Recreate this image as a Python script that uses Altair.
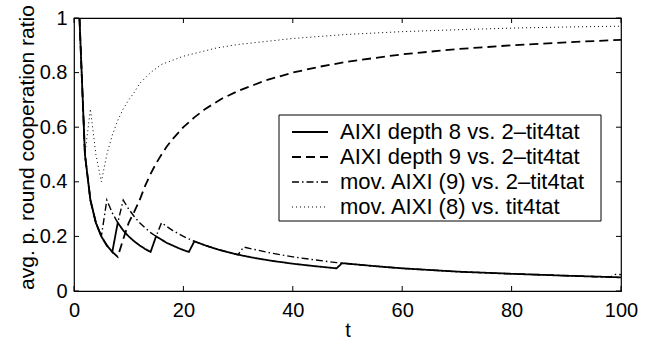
import altair as alt
import pandas as pd

# ---------------- data ----------------
names = [
    "AIXI depth 8 vs. 2\u2013tit4tat",
    "AIXI depth 9 vs. 2\u2013tit4tat",
    "mov. AIXI (9) vs. 2\u2013tit4tat",
    "mov. AIXI (8) vs. tit4tat",
]

t_s1 = [1, 2, 3, 4, 5, 6, 7, 8, 9, 10, 11, 12, 13, 14, 15, 16, 17, 18, 19, 20, 21, 22,
        24, 26, 28, 30, 33, 36, 40, 44, 48, 49, 55, 60, 65, 70, 80, 90, 100]
v_s1 = [1.0, 0.5, 0.333, 0.25, 0.2, 0.167, 0.143, 0.25, 0.222, 0.2, 0.182, 0.167, 0.154,
        0.143, 0.2, 0.188, 0.176, 0.167, 0.158, 0.15, 0.143, 0.182, 0.167, 0.154, 0.143,
        0.133, 0.121, 0.111, 0.1, 0.091, 0.083, 0.102, 0.091, 0.083, 0.077, 0.071, 0.063,
        0.056, 0.05]

t_s2 = [1, 2, 3, 4, 5, 6, 7, 8, 9, 10, 11, 12, 13, 14, 15, 16, 17, 18, 20, 22, 24, 27,
        30, 35, 40, 45, 50, 60, 70, 80, 90, 100]
v_s2 = [1.0, 0.5, 0.333, 0.25, 0.2, 0.167, 0.143, 0.125, 0.19, 0.25, 0.29, 0.333, 0.385,
        0.429, 0.467, 0.5, 0.53, 0.556, 0.6, 0.636, 0.667, 0.704, 0.733, 0.771, 0.8,
        0.822, 0.84, 0.867, 0.886, 0.9, 0.911, 0.92]

t_s3 = [1, 2, 3, 4, 5, 6, 7, 8, 9, 10, 11, 12, 13, 14, 15, 16, 18, 20, 22, 24, 26, 28,
        30, 31, 33, 36, 40, 44, 48, 55, 60, 70, 80, 90, 98, 99, 100]
v_s3 = [1.0, 0.5, 0.333, 0.25, 0.2, 0.333, 0.286, 0.25, 0.333, 0.3, 0.273, 0.25, 0.231,
        0.214, 0.2, 0.25, 0.222, 0.2, 0.182, 0.167, 0.154, 0.143, 0.133, 0.161, 0.152,
        0.139, 0.125, 0.114, 0.104, 0.091, 0.083, 0.071, 0.063, 0.056, 0.051, 0.061, 0.06]

t_s4 = [1, 2, 3, 4, 5, 6, 7, 8, 9, 10, 11, 12, 14, 16, 18, 20, 23, 26, 30, 35, 40, 50,
        60, 70, 80, 90, 100]
v_s4 = [1.0, 0.5, 0.667, 0.5, 0.4, 0.5, 0.571, 0.625, 0.667, 0.7, 0.727, 0.76, 0.8,
        0.83, 0.845, 0.86, 0.875, 0.89, 0.903, 0.914, 0.925, 0.94, 0.95, 0.957, 0.963,
        0.967, 0.97]

x_ticks = [0, 20, 40, 60, 80, 100]
y_ticks = [0, 0.2, 0.4, 0.6, 0.8, 1]

# ---------------- styling ----------------
W, H = 547, 273
FONT = "Liberation Sans"
dashes = [[1, 0], [9, 5], [7, 3, 1.5, 3], [1, 3]]
widths = [1.8, 1.8, 1.4, 1.0]

xs = alt.Scale(domain=[0, 100], nice=False, zero=False)
ys = alt.Scale(domain=[0, 1], nice=False)

xaxis = alt.Axis(values=x_ticks, title="t", labelPadding=9, titleY=45,
                 titleBaseline="alphabetic", labelFlush=False)
yaxis = alt.Axis(values=y_ticks, format="~g", title="avg. p. round cooperation ratio",
                 labelPadding=7, titleX=-41, titleY=129, titleBaseline="alphabetic",
                 titleAlign="center", titleAngle=-90, labelFlush=False, titleFontSize=21)

layers = []
series = [(t_s1, v_s1), (t_s2, v_s2), (t_s3, v_s3), (t_s4, v_s4)]
for i, (tt, vv) in enumerate(series):
    df = pd.DataFrame({"t": tt, "v": vv})
    layers.append(
        alt.Chart(df).mark_line(color="black", strokeWidth=widths[i],
                                strokeDash=dashes[i], clip=True).encode(
            x=alt.X("t:Q", scale=xs, axis=xaxis),
            y=alt.Y("v:Q", scale=ys, axis=yaxis),
        )
    )

# inward ticks (MATLAB style), on all four sides
xt = pd.DataFrame({"t": x_ticks})
yt = pd.DataFrame({"v": y_ticks})
tick_len = 5
layers.append(alt.Chart(xt).mark_rule(color="black", strokeWidth=1).encode(
    x=alt.X("t:Q", scale=xs, axis=xaxis), y=alt.value(H), y2=alt.value(H - tick_len)))
layers.append(alt.Chart(xt).mark_rule(color="black", strokeWidth=1).encode(
    x=alt.X("t:Q", scale=xs, axis=xaxis), y=alt.value(0), y2=alt.value(tick_len)))
layers.append(alt.Chart(yt).mark_rule(color="black", strokeWidth=1).encode(
    y=alt.Y("v:Q", scale=ys, axis=yaxis), x=alt.value(0), x2=alt.value(tick_len)))
layers.append(alt.Chart(yt).mark_rule(color="black", strokeWidth=1).encode(
    y=alt.Y("v:Q", scale=ys, axis=yaxis), x=alt.value(W), x2=alt.value(W - tick_len)))

# manual legend box
box_x0, box_x1, box_y0, box_y1 = 205, 527, 97, 203
row_y0, row_step = 114, 25
sample_x0, sample_x1, text_x = 218, 254, 266
layers.append(alt.Chart(pd.DataFrame({"k": [0]})).mark_rect(
    fill="white", stroke="black", strokeWidth=1).encode(
    x=alt.value(box_x0), x2=alt.value(box_x1), y=alt.value(box_y0), y2=alt.value(box_y1)))
for i, name in enumerate(names):
    ldf = pd.DataFrame({"label": [name]})
    ry = row_y0 + i * row_step
    layers.append(alt.Chart(ldf).mark_rule(color="black", strokeWidth=widths[i],
                                           strokeDash=dashes[i]).encode(
        x=alt.value(sample_x0), x2=alt.value(sample_x1), y=alt.value(ry)))
    layers.append(alt.Chart(ldf).mark_text(align="left", baseline="middle", font=FONT,
                                           fontSize=22, color="black").encode(
        x=alt.value(text_x), y=alt.value(ry), text="label:N"))

chart = alt.layer(*layers).properties(
    width=W, height=H,
    autosize=alt.AutoSizeParams(type="none"),
    padding={"left": 74, "top": 18, "right": 35, "bottom": 52},
    background="white",
).configure_view(
    stroke="black", strokeWidth=1.2, fill="white"
).configure_axis(
    domain=False, ticks=False, grid=False,
    labelFont=FONT, labelFontSize=20, labelColor="black",
    titleFont=FONT, titleFontSize=20, titleFontWeight="normal", titleColor="black",
)

chart.save("out.html", embed_options={"renderer": "svg", "actions": False})
